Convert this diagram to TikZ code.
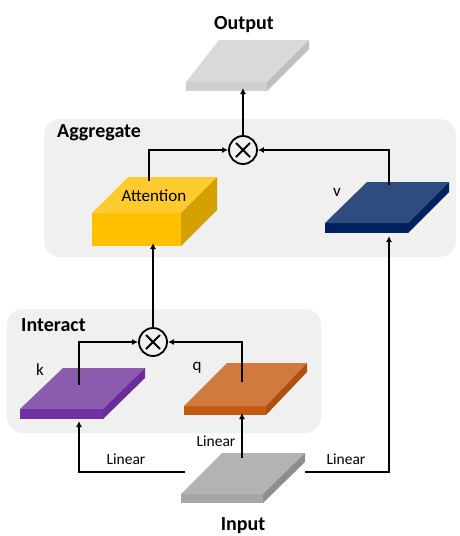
\documentclass[tikz,border=0pt]{standalone}
\usepackage{fontspec}
\setmainfont{Carlito}
\usetikzlibrary{arrows.meta,calc}

% slab colours: top face, front face, side face
\definecolor{outtop}{HTML}{D9D9D9}\definecolor{outfront}{HTML}{CFCFCF}\definecolor{outside}{HTML}{BFBFBF}
\definecolor{intop}{HTML}{B3B3B3}\definecolor{infront}{HTML}{A6A6A6}\definecolor{inside}{HTML}{8E8E8E}
\definecolor{atttop}{HTML}{FFCB2F}\definecolor{attfront}{HTML}{FFC000}\definecolor{attside}{HTML}{D2A000}
\definecolor{vtop}{HTML}{2F4C7F}\definecolor{vfront}{HTML}{002060}\definecolor{vside}{HTML}{00225E}
\definecolor{ktop}{HTML}{8B5BAE}\definecolor{kfront}{HTML}{7030A0}\definecolor{kside}{HTML}{6A2C9B}
\definecolor{qtop}{HTML}{D07A3F}\definecolor{qfront}{HTML}{C55A11}\definecolor{qside}{HTML}{B0500E}
\definecolor{groupbg}{HTML}{F0F0F0}

% \slab{name}{x}{y}{width}{thickness}{back-left dx}{back-right dx}{dy}{colour prefix}
\newcommand\slab[9]{%
  \node[inner sep=0pt, outer sep=0pt, minimum width=#4pt, minimum height=#5pt,
        fill=#9front, anchor=north west] (#1) at (#2,#3) {};
  \fill[#9top] (#1.north west) -- ++(#6,#8) -- ($(#1.north east)+(#7,#8)$) -- (#1.north east) -- cycle;
  \fill[#9side] (#1.north east) -- ++(#7,#8) -- ++(0,#5) -- (#1.south east) -- cycle;
}

\begin{document}
\begin{tikzpicture}[x=1pt,y=-1pt,
  groupbox/.style={fill=groupbg, rounded corners=16pt},
  title/.style={font=\fontsize{20}{24}\selectfont\bfseries, inner sep=0pt},
  tag/.style={font=\fontsize{17}{20}\selectfont, inner sep=0pt},
  lin/.style={font=\fontsize{15.5}{18}\selectfont, inner sep=0pt},
  conn/.style={line width=1.8pt, -{Latex[length=6pt,width=6pt]}},
  wire/.style={line width=1.8pt},
  mult/.style={circle, draw, line width=1.8pt, minimum size=28pt, inner sep=0pt,
    path picture={
      \draw[line width=1.8pt]
        ([shift={(-7,-7)}]path picture bounding box.center) -- ([shift={(7,7)}]path picture bounding box.center)
        ([shift={(-7,7)}]path picture bounding box.center) -- ([shift={(7,-7)}]path picture bounding box.center);}}
]
\useasboundingbox (0,0) rectangle (459,536);

% group panels
\fill[groupbox] (44,119) rectangle (456,257);
\fill[groupbox] (7,309) rectangle (321,433);
\node[title, anchor=west] (aggT) at (57,133) {Aggregate};
\node[title, anchor=west] (intT) at (21,325) {Interact};

% slabs
\slab{outF}{186}{82}{81}{9}{33}{42}{-42}{out}
\slab{attF}{92}{213}{89}{33}{36}{36}{-36}{att}
\slab{vF}{325}{223}{83}{10}{42}{41}{-41}{v}
\slab{kF}{20}{409}{83}{10}{43}{42}{-41}{k}
\slab{qF}{184}{406}{82}{9}{43}{41}{-43}{q}
\slab{inF}{181}{494}{82}{9}{41}{42}{-41}{in}

% labels
\node[title] (outT) at (244,25) {Output};
\node[title] (inT) at (243,526) {Input};
\node[tag] (attT) at (154,196) {Attention};
\node[tag] (vT) at (337,192) {v};
\node[tag] (kT) at (40,370) {k};
\node[tag] (qT) at (197,368) {q};
\node[lin] (linQ) at (216,441) {Linear};
\node[lin] (linK) at (126,459) {Linear};
\node[lin] (linV) at (346,459) {Linear};

% multiplication nodes
\node[mult] (m1) at (243,150) {};
\node[mult] (m2) at (153,342) {};

% connector ends on the slabs
\coordinate (attUp) at (149,181);
\coordinate (vUp) at (389,185);
\coordinate (kUp) at (79,385);
\coordinate (qUp) at (242,382);
\coordinate (inQ) at (242,458);
\coordinate (inK) at (185,472);
\coordinate (inV) at (305,472);
\coordinate (kIn) at (79,421);
\coordinate (vIn) at (389,236);

% aggregate stage
\draw[conn] (attUp) |- (m1.west);
\draw[conn] (vUp) |- (m1.east);
\draw[conn] (m1.north) -- ([yshift=3pt]m1.north |- outF.south);

% interact stage
\draw[conn] (kUp) |- (m2.west);
\draw[conn] (qUp) |- (m2.east);
\draw[conn] (m2.north) -- ([yshift=3pt]m2.north |- attF.south);

% linear projections of the input
\draw[conn] (inQ) -- ([yshift=2pt]inQ |- qF.south);
\draw[conn] (inK) -| (kIn);
\draw[conn] (inV) -| (vIn);
\end{tikzpicture}
\end{document}
